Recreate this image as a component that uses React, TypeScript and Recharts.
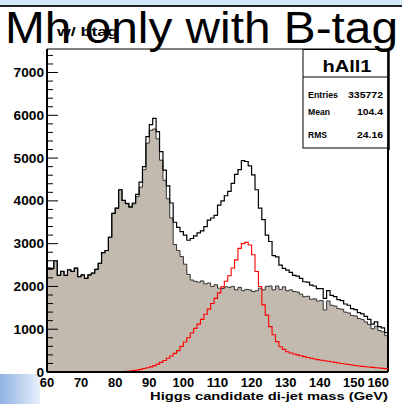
import React from "react"
import {
  ComposedChart,
  Area,
  Line,
  XAxis,
  YAxis,
  ReferenceLine,
} from "recharts"

// bin lower edges, 1 GeV bins from 60 to 160
const massEdges = Array.from({ length: 101 }, (_, i) => 60 + i)

// background (filled grey)
const background = [
  2430, 2420, 2600, 2260, 2350, 2260, 2390, 2350, 2430, 2230,
  2270, 2190, 2270, 2310, 2400, 2540, 2790, 2840, 3150, 3710,
  3830, 4260, 4010, 3930, 3850, 3930, 4100, 4320, 4730, 5350,
  5650, 5680, 5450, 4950, 4480, 4050, 3600, 2980, 2840, 2700,
  2520, 2280, 2150, 2120, 2100, 2130, 2060, 2080, 2000, 2040,
  1960, 1950, 1990, 1980, 2000, 1920, 1980, 1900, 1930, 1920,
  1880, 1900, 1960, 1920, 2000, 2010, 1920, 2010, 1930, 1990,
  1900, 1920, 1880, 1870, 1820, 1760, 1770, 1700, 1710, 1660,
  1670, 1450, 1660, 1560, 1540, 1480, 1470, 1400, 1380, 1320,
  1310, 1250, 1230, 1170, 1110, 1010, 1070, 970, 940, 850,
]

// signal (red)
const signal = [
  0, 0, 0, 0, 0, 0, 0, 0, 0, 0,
  0, 0, 0, 0, 0, 0, 0, 0, 0, 0,
  2, 4, 8, 14, 22, 32, 45, 62, 82, 100,
  120, 150, 185, 225, 270, 320, 375, 435, 500, 600,
  700, 800, 910, 1020, 1120, 1230, 1350, 1470, 1600, 1720,
  1850, 1990, 2120, 2250, 2430, 2620, 2890, 3000, 3030, 2970,
  2740, 2350, 2000, 1570, 1330, 1060, 870, 710, 590, 530,
  475, 445, 420, 400, 380, 360, 340, 320, 305, 290,
  275, 262, 250, 238, 225, 212, 200, 188, 176, 164,
  152, 140, 132, 124, 116, 108, 100, 92, 85, 78,
]

// total (black outline)
const total = [
  2430, 2420, 2600, 2260, 2350, 2260, 2390, 2350, 2430, 2230,
  2270, 2190, 2270, 2310, 2400, 2540, 2790, 2840, 3150, 3710,
  3830, 4260, 4010, 3940, 3860, 3950, 4150, 4440, 4800, 5500,
  5780, 5930, 5620, 5150, 4720, 4350, 3950, 3500, 3380, 3280,
  3200, 3080, 3120, 3180, 3250, 3300, 3400, 3550, 3600, 3660,
  3900, 4000, 4120, 4220, 4410, 4620, 4730, 4940, 4920, 4820,
  4610, 4260, 3830, 3560, 3200, 3050, 2720, 2690, 2500, 2420,
  2380, 2330, 2260, 2240, 2190, 2110, 2100, 2030, 2010, 1950,
  1950, 1720, 1900, 1790, 1760, 1690, 1670, 1590, 1560, 1480,
  1460, 1390, 1360, 1300, 1230, 1120, 1170, 1060, 1030, 920,
]

const xTicks = [60, 70, 80, 90, 100, 110, 120, 130, 140, 150, 160]
const yTicks = Array.from({ length: 38 }, (_, i) => i * 200)

const rows = massEdges.map((m, i) => {
  const k = Math.min(i, background.length - 1)
  return { m, bg: background[k], sig: signal[k], tot: total[k] }
})

const FONT = '"Liberation Sans", Arial, Helvetica, sans-serif'
const PLOT_LEFT = 47

function XTick(props: any) {
  const { x, payload } = props
  const label = String(payload.value)
  const last = payload.value === 160
  return (
    <text
      x={last ? x + 1 : x}
      y={387}
      textAnchor={last ? "end" : "middle"}
      fontFamily={FONT}
      fontWeight="bold"
      fontSize={13}
      fill="#000"
      textLength={label.length * 7.2}
      lengthAdjust="spacingAndGlyphs"
    >
      {label}
    </text>
  )
}

function YTick(props: any) {
  const { y, payload } = props
  const v = payload.value as number
  const major = v % 1000 === 0
  const label = String(v)
  return (
    <g>
      <line
        x1={PLOT_LEFT}
        x2={PLOT_LEFT + (major ? 11 : 6)}
        y1={y}
        y2={y}
        stroke="#000"
        strokeWidth={1}
      />
      {major && (
        <text
          x={44}
          y={y + 4.5}
          textAnchor="end"
          fontFamily={FONT}
          fontWeight="bold"
          fontSize={12}
          fill="#000"
          textLength={label.length * 7.6}
          lengthAdjust="spacingAndGlyphs"
        >
          {label}
        </text>
      )}
    </g>
  )
}

export default function App() {
  return (
    <div
      style={{
        position: "absolute",
        left: 0,
        top: 0,
        width: 402,
        height: 404,
        background: "#fff",
        overflow: "hidden",
      }}
    >
      <div style={{ position: "absolute", left: 0, top: 0, width: 402, height: 5, background: "#d3e8f6" }} />
      <div style={{ position: "absolute", left: 0, top: 5, width: 402, height: 2, background: "#222" }} />
      <div
        style={{
          position: "absolute",
          left: 0,
          top: 374,
          width: 40,
          height: 30,
          background: "linear-gradient(to right, #8fb2e2, #e8f0fb)",
        }}
      />
      <div style={{ position: "absolute", left: 0, top: 0 }}>
        <ComposedChart
          width={402}
          height={404}
          data={rows}
          margin={{ top: 49, right: 14, bottom: 0, left: 0 }}
        >
          <XAxis
            dataKey="m"
            type="number"
            domain={[60, 160]}
            ticks={xTicks}
            interval={0}
            height={32}
            allowDataOverflow
            axisLine={{ stroke: "#000", strokeWidth: 2 }}
            tickLine={false}
            tick={XTick}
          />
          <YAxis
            type="number"
            domain={[0, 7550]}
            ticks={yTicks}
            interval={0}
            width={47}
            allowDataOverflow
            axisLine={{ stroke: "#000", strokeWidth: 2 }}
            tickLine={false}
            tick={YTick}
          />
          <ReferenceLine y={7550} stroke="#000" strokeWidth={1} />
          <ReferenceLine x={160} stroke="#000" strokeWidth={2} />
          <Area
            dataKey="bg"
            type="stepAfter"
            fill="#c2b9af"
            fillOpacity={1}
            stroke="#333"
            strokeWidth={1}
            dot={false}
            activeDot={false}
            isAnimationActive={false}
          />
          <Line
            dataKey="tot"
            type="stepAfter"
            stroke="#000"
            strokeWidth={1.2}
            dot={false}
            activeDot={false}
            isAnimationActive={false}
          />
          <Line
            dataKey="sig"
            type="stepAfter"
            stroke="#ff0000"
            strokeWidth={1.1}
            dot={false}
            activeDot={false}
            isAnimationActive={false}
          />
        </ComposedChart>
      </div>
      <svg
        width={402}
        height={404}
        style={{ position: "absolute", left: 0, top: 0, pointerEvents: "none" }}
      >
        {/* stats box */}
        <rect x={303} y={49.5} width={85} height={98.5} fill="#fff" stroke="#000" strokeWidth={1} />
        <line x1={388.5} x2={388.5} y1={49} y2={150} stroke="#000" strokeWidth={2.5} />
        <line x1={303} x2={388} y1={77} y2={77} stroke="#000" strokeWidth={1} />
        <text x={347} y={72} textAnchor="middle" fontFamily={FONT} fontWeight="bold" fontSize={16}
          textLength={49} lengthAdjust="spacingAndGlyphs">hAll1</text>
        <text x={308} y={97.7} fontFamily={FONT} fontWeight="bold" fontSize={9.5}
          textLength={30} lengthAdjust="spacingAndGlyphs">Entries</text>
        <text x={383} y={97.7} textAnchor="end" fontFamily={FONT} fontWeight="bold" fontSize={9.5}
          textLength={35} lengthAdjust="spacingAndGlyphs">335772</text>
        <text x={308} y={115.2} fontFamily={FONT} fontWeight="bold" fontSize={9.5}
          textLength={22} lengthAdjust="spacingAndGlyphs">Mean</text>
        <text x={383} y={115.2} textAnchor="end" fontFamily={FONT} fontWeight="bold" fontSize={9.5}
          textLength={26} lengthAdjust="spacingAndGlyphs">104.4</text>
        <text x={308} y={137.7} fontFamily={FONT} fontWeight="bold" fontSize={9.5}
          textLength={19} lengthAdjust="spacingAndGlyphs">RMS</text>
        <text x={383} y={137.7} textAnchor="end" fontFamily={FONT} fontWeight="bold" fontSize={9.5}
          textLength={26} lengthAdjust="spacingAndGlyphs">24.16</text>

        {/* titles */}
        <text x={57} y={36} fontFamily={FONT} fontWeight="bold" fontSize={12}
          textLength={61} lengthAdjust="spacingAndGlyphs">w/ btag</text>
        <text x={5} y={43} fontFamily={FONT} fontSize={44}
          textLength={393} lengthAdjust="spacingAndGlyphs">Mh only with B-tag</text>
        <text x={388} y={400} textAnchor="end" fontFamily={FONT} fontWeight="bold" fontSize={11.5}
          textLength={238} lengthAdjust="spacingAndGlyphs">Higgs candidate di-jet mass (GeV)</text>
      </svg>
    </div>
  )
}
